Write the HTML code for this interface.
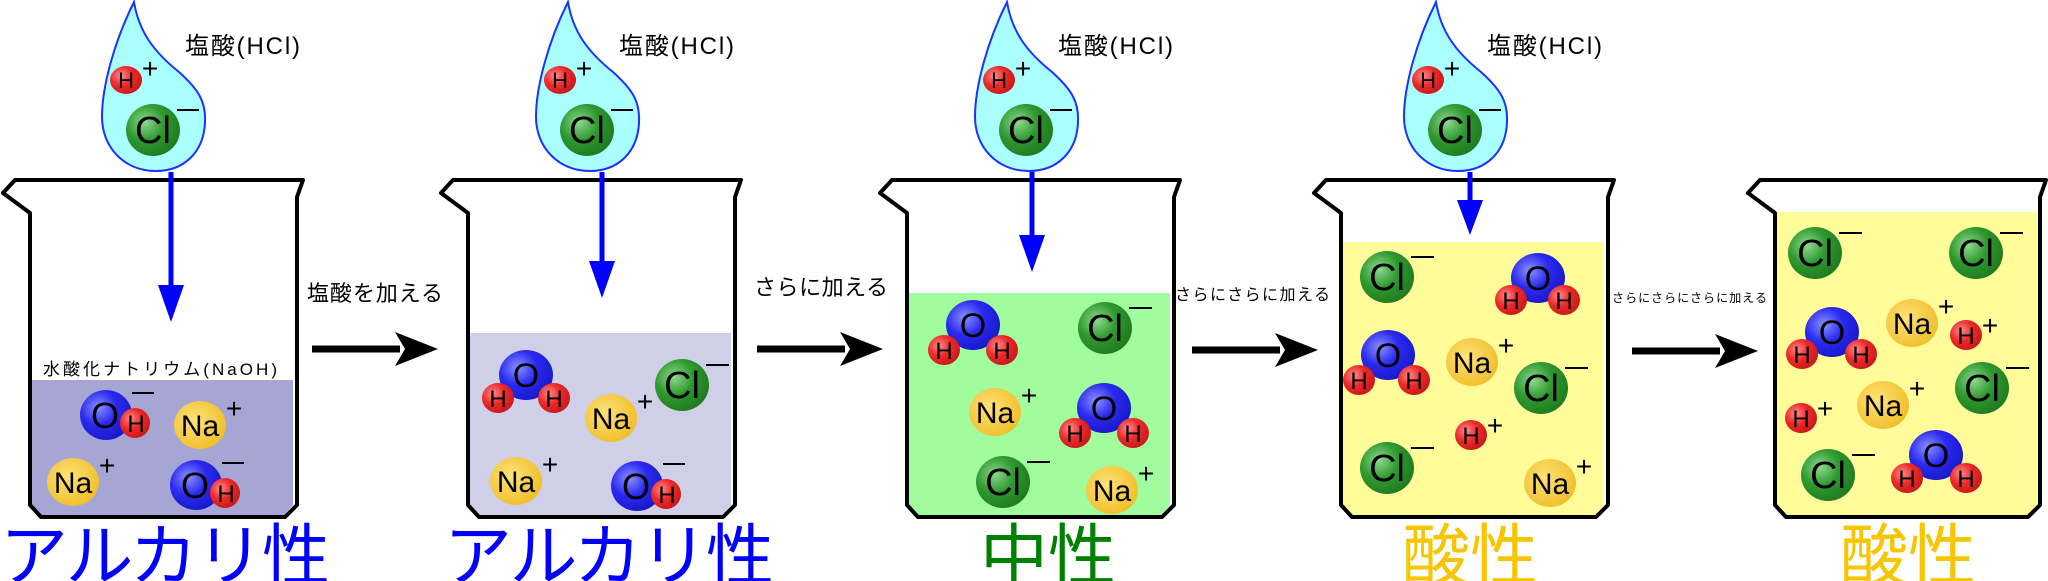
<!DOCTYPE html>
<html><head><meta charset="utf-8"><style>
html,body{margin:0;padding:0;background:#fff;}
svg{display:block;}
text{font-family:"Liberation Sans","Noto Sans CJK JP",sans-serif;}
</style></head><body>
<svg width="2048" height="581" viewBox="0 0 2048 581" xmlns="http://www.w3.org/2000/svg">
<defs>
<radialGradient id="gCl" cx="0.35" cy="0.35" r="0.7"><stop offset="0" stop-color="#8fd88f"/><stop offset="0.5" stop-color="#2f9a2f"/><stop offset="1" stop-color="#1f7a1f"/></radialGradient>
<radialGradient id="gNa" cx="0.4" cy="0.4" r="0.7"><stop offset="0" stop-color="#ffe27a"/><stop offset="1" stop-color="#eebb22"/></radialGradient>
<radialGradient id="gO" cx="0.35" cy="0.35" r="0.7"><stop offset="0" stop-color="#8a90ff"/><stop offset="0.5" stop-color="#2a2af0"/><stop offset="1" stop-color="#1818c8"/></radialGradient>
<radialGradient id="gH" cx="0.35" cy="0.35" r="0.7"><stop offset="0" stop-color="#ff8a8a"/><stop offset="0.5" stop-color="#ee2a2a"/><stop offset="1" stop-color="#c81818"/></radialGradient>
</defs>

<!-- liquids -->
<path d="M30,380 L293,380 L293,505 L282,517 L38,517 L30,505 Z" fill="#a6a6d4"/>
<path d="M468,333 L731,333 L731,505 L720,517 L476,517 L468,505 Z" fill="#cfcfe8"/>
<path d="M907,293 L1170,293 L1170,505 L1159,517 L915,517 L907,505 Z" fill="#a0fc9c"/>
<path d="M1341,242 L1604,242 L1604,505 L1593,517 L1349,517 L1341,505 Z" fill="#fffc99"/>
<path d="M1775,212 L2038,212 L2038,505 L2027,517 L1783,517 L1775,505 Z" fill="#fffc99"/>

<!-- beakers -->
<g fill="none" stroke="#000" stroke-width="4" stroke-linejoin="round">
<path transform="translate(3,0)" d="M12,180 L300,180 L294,197 L294,505 L282,517 L38,517 L27,505 L27,213 L0,193 Z"/>
<path transform="translate(441,0)" d="M12,180 L300,180 L294,197 L294,505 L282,517 L38,517 L27,505 L27,213 L0,193 Z"/>
<path transform="translate(880,0)" d="M12,180 L300,180 L294,197 L294,505 L282,517 L38,517 L27,505 L27,213 L0,193 Z"/>
<path transform="translate(1314,0)" d="M12,180 L300,180 L294,197 L294,505 L282,517 L38,517 L27,505 L27,213 L0,193 Z"/>
<path transform="translate(1748,0)" d="M12,180 L298,180 L292,197 L292,505 L280,517 L38,517 L27,505 L27,213 L0,193 Z"/>
</g>

<!-- drops -->
<g transform="translate(134,2)">
<path d="M0,0 C5,30 20,50 45,70 C65,88 72,100 71,120 C70,150 50,169 22,169 C-10,169 -32,145 -32,115 C-32,85 -20,40 0,0 Z" fill="#aaffff" stroke="#1a33ff" stroke-width="2"/>
<ellipse cx="-8" cy="78" rx="16" ry="14" fill="url(#gH)"/><text x="-8" y="86" font-size="22" text-anchor="middle">H</text>
<text x="16" y="76" font-size="28" text-anchor="middle">+</text>
<ellipse cx="19" cy="128" rx="27" ry="26" fill="url(#gCl)"/><text x="19" y="141" font-size="38" text-anchor="middle">Cl</text>
<line x1="43" y1="108" x2="65" y2="108" stroke="#000" stroke-width="2"/>
<text x="51" y="52" font-size="24" textLength="115">塩酸(HCl)</text>
</g>
<g transform="translate(568,2)">
<path d="M0,0 C5,30 20,50 45,70 C65,88 72,100 71,120 C70,150 50,169 22,169 C-10,169 -32,145 -32,115 C-32,85 -20,40 0,0 Z" fill="#aaffff" stroke="#1a33ff" stroke-width="2"/>
<ellipse cx="-8" cy="78" rx="16" ry="14" fill="url(#gH)"/><text x="-8" y="86" font-size="22" text-anchor="middle">H</text>
<text x="16" y="76" font-size="28" text-anchor="middle">+</text>
<ellipse cx="19" cy="128" rx="27" ry="26" fill="url(#gCl)"/><text x="19" y="141" font-size="38" text-anchor="middle">Cl</text>
<line x1="43" y1="108" x2="65" y2="108" stroke="#000" stroke-width="2"/>
<text x="51" y="52" font-size="24" textLength="115">塩酸(HCl)</text>
</g>
<g transform="translate(1007,2)">
<path d="M0,0 C5,30 20,50 45,70 C65,88 72,100 71,120 C70,150 50,169 22,169 C-10,169 -32,145 -32,115 C-32,85 -20,40 0,0 Z" fill="#aaffff" stroke="#1a33ff" stroke-width="2"/>
<ellipse cx="-8" cy="78" rx="16" ry="14" fill="url(#gH)"/><text x="-8" y="86" font-size="22" text-anchor="middle">H</text>
<text x="16" y="76" font-size="28" text-anchor="middle">+</text>
<ellipse cx="19" cy="128" rx="27" ry="26" fill="url(#gCl)"/><text x="19" y="141" font-size="38" text-anchor="middle">Cl</text>
<line x1="43" y1="108" x2="65" y2="108" stroke="#000" stroke-width="2"/>
<text x="51" y="52" font-size="24" textLength="115">塩酸(HCl)</text>
</g>
<g transform="translate(1436,2)">
<path d="M0,0 C5,30 20,50 45,70 C65,88 72,100 71,120 C70,150 50,169 22,169 C-10,169 -32,145 -32,115 C-32,85 -20,40 0,0 Z" fill="#aaffff" stroke="#1a33ff" stroke-width="2"/>
<ellipse cx="-8" cy="78" rx="16" ry="14" fill="url(#gH)"/><text x="-8" y="86" font-size="22" text-anchor="middle">H</text>
<text x="16" y="76" font-size="28" text-anchor="middle">+</text>
<ellipse cx="19" cy="128" rx="27" ry="26" fill="url(#gCl)"/><text x="19" y="141" font-size="38" text-anchor="middle">Cl</text>
<line x1="43" y1="108" x2="65" y2="108" stroke="#000" stroke-width="2"/>
<text x="51" y="52" font-size="24" textLength="115">塩酸(HCl)</text>
</g>

<!-- blue arrows -->
<g stroke="#0000ff" stroke-width="5" fill="#0000ff">
<line x1="171" y1="172" x2="171" y2="292"/><polygon stroke="none" points="158,285 184,285 171,322"/>
<line x1="602" y1="172" x2="602" y2="268"/><polygon stroke="none" points="589,261 615,261 602,298"/>
<line x1="1032" y1="172" x2="1032" y2="242"/><polygon stroke="none" points="1019,235 1045,235 1032,272"/>
<line x1="1470" y1="172" x2="1470" y2="205"/><polygon stroke="none" points="1457,200 1483,200 1470,235"/>
</g>

<!-- black arrows -->
<g stroke="#000" stroke-width="7">
<line x1="312" y1="349" x2="400" y2="349"/><line x1="757" y1="349" x2="845" y2="349"/>
<line x1="1192" y1="350" x2="1280" y2="350"/><line x1="1632" y1="351" x2="1720" y2="351"/>
</g>
<g fill="#000">
<polygon points="438,349 395,332 405,349 395,366"/>
<polygon points="883,349 840,332 850,349 840,366"/>
<polygon points="1318,350 1275,333 1285,350 1275,367"/>
<polygon points="1758,351 1715,334 1725,351 1715,368"/>
</g>
<text x="307" y="301" font-size="22" textLength="136">塩酸を加える</text>
<text x="754" y="295" font-size="22" textLength="134">さらに加える</text>
<text x="1175" y="300" font-size="16" textLength="155">さらにさらに加える</text>
<text x="1612" y="302" font-size="12" textLength="155">さらにさらにさらに加える</text>

<!-- beaker 1 contents -->
<text x="43" y="375" font-size="17" textLength="234">水酸化ナトリウム(NaOH)</text>
<g transform="translate(106,415)"><ellipse rx="26" ry="25" fill="url(#gO)"/><text x="-1" y="13" font-size="36" text-anchor="middle">O</text><ellipse cx="29" cy="8" rx="15" ry="15" fill="url(#gH)"/><text x="30" y="17" font-size="24" text-anchor="middle">H</text><line x1="26" y1="-22" x2="48" y2="-22" stroke="#000" stroke-width="2"/></g>
<g transform="translate(200,425)"><ellipse rx="26" ry="24" fill="url(#gNa)"/><text y="11" font-size="30" text-anchor="middle">Na</text><text x="34" y="-7" font-size="28" text-anchor="middle">+</text></g>
<g transform="translate(73,482)"><ellipse rx="26" ry="24" fill="url(#gNa)"/><text y="11" font-size="30" text-anchor="middle">Na</text><text x="34" y="-7" font-size="28" text-anchor="middle">+</text></g>
<g transform="translate(196,485)"><ellipse rx="26" ry="25" fill="url(#gO)"/><text x="-1" y="13" font-size="36" text-anchor="middle">O</text><ellipse cx="29" cy="8" rx="15" ry="15" fill="url(#gH)"/><text x="30" y="17" font-size="24" text-anchor="middle">H</text><line x1="26" y1="-22" x2="48" y2="-22" stroke="#000" stroke-width="2"/></g>

<!-- beaker 2 contents -->
<g transform="translate(526,375)"><ellipse rx="27" ry="25" fill="url(#gO)"/><ellipse cx="-28" cy="23" rx="16" ry="15" fill="url(#gH)"/><ellipse cx="28" cy="23" rx="16" ry="15" fill="url(#gH)"/><text y="12" font-size="34" text-anchor="middle">O</text><text x="-28" y="32" font-size="24" text-anchor="middle">H</text><text x="28" y="32" font-size="24" text-anchor="middle">H</text></g>
<g transform="translate(611,418)"><ellipse rx="26" ry="24" fill="url(#gNa)"/><text y="11" font-size="30" text-anchor="middle">Na</text><text x="34" y="-7" font-size="28" text-anchor="middle">+</text></g>
<g transform="translate(682,385)"><ellipse rx="27" ry="26" fill="url(#gCl)"/><text y="13" font-size="38" text-anchor="middle">Cl</text><line x1="24" y1="-20" x2="47" y2="-20" stroke="#000" stroke-width="2"/></g>
<g transform="translate(516,481)"><ellipse rx="26" ry="24" fill="url(#gNa)"/><text y="11" font-size="30" text-anchor="middle">Na</text><text x="34" y="-7" font-size="28" text-anchor="middle">+</text></g>
<g transform="translate(637,486)"><ellipse rx="26" ry="25" fill="url(#gO)"/><text x="-1" y="13" font-size="36" text-anchor="middle">O</text><ellipse cx="29" cy="8" rx="15" ry="15" fill="url(#gH)"/><text x="30" y="17" font-size="24" text-anchor="middle">H</text><line x1="26" y1="-22" x2="48" y2="-22" stroke="#000" stroke-width="2"/></g>

<!-- beaker 3 contents -->
<g transform="translate(973,325)"><ellipse rx="27" ry="25" fill="url(#gO)"/><ellipse cx="-29" cy="25" rx="16" ry="15" fill="url(#gH)"/><ellipse cx="29" cy="25" rx="16" ry="15" fill="url(#gH)"/><text y="12" font-size="34" text-anchor="middle">O</text><text x="-29" y="34" font-size="24" text-anchor="middle">H</text><text x="29" y="34" font-size="24" text-anchor="middle">H</text></g>
<g transform="translate(1105,328)"><ellipse rx="27" ry="26" fill="url(#gCl)"/><text y="13" font-size="38" text-anchor="middle">Cl</text><line x1="24" y1="-20" x2="47" y2="-20" stroke="#000" stroke-width="2"/></g>
<g transform="translate(995,412)"><ellipse rx="26" ry="24" fill="url(#gNa)"/><text y="11" font-size="30" text-anchor="middle">Na</text><text x="34" y="-7" font-size="28" text-anchor="middle">+</text></g>
<g transform="translate(1104,408)"><ellipse rx="27" ry="25" fill="url(#gO)"/><ellipse cx="-29" cy="25" rx="16" ry="15" fill="url(#gH)"/><ellipse cx="29" cy="25" rx="16" ry="15" fill="url(#gH)"/><text y="12" font-size="34" text-anchor="middle">O</text><text x="-29" y="34" font-size="24" text-anchor="middle">H</text><text x="29" y="34" font-size="24" text-anchor="middle">H</text></g>
<g transform="translate(1003,482)"><ellipse rx="27" ry="26" fill="url(#gCl)"/><text y="13" font-size="38" text-anchor="middle">Cl</text><line x1="24" y1="-20" x2="47" y2="-20" stroke="#000" stroke-width="2"/></g>
<g transform="translate(1112,490)"><ellipse rx="26" ry="24" fill="url(#gNa)"/><text y="11" font-size="30" text-anchor="middle">Na</text><text x="34" y="-7" font-size="28" text-anchor="middle">+</text></g>

<!-- beaker 4 contents -->
<g transform="translate(1387,277)"><ellipse rx="27" ry="26" fill="url(#gCl)"/><text y="13" font-size="38" text-anchor="middle">Cl</text><line x1="24" y1="-20" x2="47" y2="-20" stroke="#000" stroke-width="2"/></g>
<g transform="translate(1538,278)"><ellipse rx="27" ry="25" fill="url(#gO)"/><ellipse cx="-27" cy="22" rx="16" ry="15" fill="url(#gH)"/><ellipse cx="26" cy="22" rx="16" ry="15" fill="url(#gH)"/><text y="12" font-size="34" text-anchor="middle">O</text><text x="-27" y="31" font-size="24" text-anchor="middle">H</text><text x="26" y="31" font-size="24" text-anchor="middle">H</text></g>
<g transform="translate(1388,355)"><ellipse rx="27" ry="25" fill="url(#gO)"/><ellipse cx="-29" cy="25" rx="16" ry="15" fill="url(#gH)"/><ellipse cx="26" cy="25" rx="16" ry="15" fill="url(#gH)"/><text y="12" font-size="34" text-anchor="middle">O</text><text x="-29" y="34" font-size="24" text-anchor="middle">H</text><text x="26" y="34" font-size="24" text-anchor="middle">H</text></g>
<g transform="translate(1472,362)"><ellipse rx="26" ry="24" fill="url(#gNa)"/><text y="11" font-size="30" text-anchor="middle">Na</text><text x="34" y="-7" font-size="28" text-anchor="middle">+</text></g>
<g transform="translate(1541,388)"><ellipse rx="27" ry="26" fill="url(#gCl)"/><text y="13" font-size="38" text-anchor="middle">Cl</text><line x1="24" y1="-20" x2="47" y2="-20" stroke="#000" stroke-width="2"/></g>
<g transform="translate(1471,435)"><ellipse rx="16" ry="15" fill="url(#gH)"/><text y="9" font-size="24" text-anchor="middle">H</text><text x="24" y="0" font-size="28" text-anchor="middle">+</text></g>
<g transform="translate(1387,468)"><ellipse rx="27" ry="26" fill="url(#gCl)"/><text y="13" font-size="38" text-anchor="middle">Cl</text><line x1="24" y1="-20" x2="47" y2="-20" stroke="#000" stroke-width="2"/></g>
<g transform="translate(1550,483)"><ellipse rx="26" ry="24" fill="url(#gNa)"/><text y="11" font-size="30" text-anchor="middle">Na</text><text x="34" y="-7" font-size="28" text-anchor="middle">+</text></g>

<!-- beaker 5 contents -->
<g transform="translate(1815,253)"><ellipse rx="27" ry="26" fill="url(#gCl)"/><text y="13" font-size="38" text-anchor="middle">Cl</text><line x1="24" y1="-20" x2="47" y2="-20" stroke="#000" stroke-width="2"/></g>
<g transform="translate(1976,253)"><ellipse rx="27" ry="26" fill="url(#gCl)"/><text y="13" font-size="38" text-anchor="middle">Cl</text><line x1="24" y1="-20" x2="47" y2="-20" stroke="#000" stroke-width="2"/></g>
<g transform="translate(1832,332)"><ellipse rx="27" ry="25" fill="url(#gO)"/><ellipse cx="-30" cy="22" rx="16" ry="15" fill="url(#gH)"/><ellipse cx="29" cy="22" rx="16" ry="15" fill="url(#gH)"/><text y="12" font-size="34" text-anchor="middle">O</text><text x="-30" y="31" font-size="24" text-anchor="middle">H</text><text x="29" y="31" font-size="24" text-anchor="middle">H</text></g>
<g transform="translate(1912,323)"><ellipse rx="26" ry="24" fill="url(#gNa)"/><text y="11" font-size="30" text-anchor="middle">Na</text><text x="34" y="-7" font-size="28" text-anchor="middle">+</text></g>
<g transform="translate(1966,335)"><ellipse rx="16" ry="15" fill="url(#gH)"/><text y="9" font-size="24" text-anchor="middle">H</text><text x="24" y="0" font-size="28" text-anchor="middle">+</text></g>
<g transform="translate(1982,388)"><ellipse rx="27" ry="26" fill="url(#gCl)"/><text y="13" font-size="38" text-anchor="middle">Cl</text><line x1="24" y1="-20" x2="47" y2="-20" stroke="#000" stroke-width="2"/></g>
<g transform="translate(1883,405)"><ellipse rx="26" ry="24" fill="url(#gNa)"/><text y="11" font-size="30" text-anchor="middle">Na</text><text x="34" y="-7" font-size="28" text-anchor="middle">+</text></g>
<g transform="translate(1801,418)"><ellipse rx="16" ry="15" fill="url(#gH)"/><text y="9" font-size="24" text-anchor="middle">H</text><text x="24" y="0" font-size="28" text-anchor="middle">+</text></g>
<g transform="translate(1828,475)"><ellipse rx="27" ry="26" fill="url(#gCl)"/><text y="13" font-size="38" text-anchor="middle">Cl</text><line x1="24" y1="-20" x2="47" y2="-20" stroke="#000" stroke-width="2"/></g>
<g transform="translate(1936,455)"><ellipse rx="27" ry="25" fill="url(#gO)"/><ellipse cx="-29" cy="23" rx="16" ry="15" fill="url(#gH)"/><ellipse cx="30" cy="23" rx="16" ry="15" fill="url(#gH)"/><text y="12" font-size="34" text-anchor="middle">O</text><text x="-29" y="32" font-size="24" text-anchor="middle">H</text><text x="30" y="32" font-size="24" text-anchor="middle">H</text></g>

<!-- labels -->
<text x="0" y="580" font-size="68" fill="#0000ff" textLength="330">アルカリ性</text>
<text x="444" y="580" font-size="68" fill="#0000ff" textLength="330">アルカリ性</text>
<text x="980" y="580" font-size="68" fill="#008000">中性</text>
<text x="1402" y="580" font-size="68" fill="#f7c600">酸性</text>
<text x="1840" y="580" font-size="68" fill="#f7c600">酸性</text>
</svg>
</body></html>
